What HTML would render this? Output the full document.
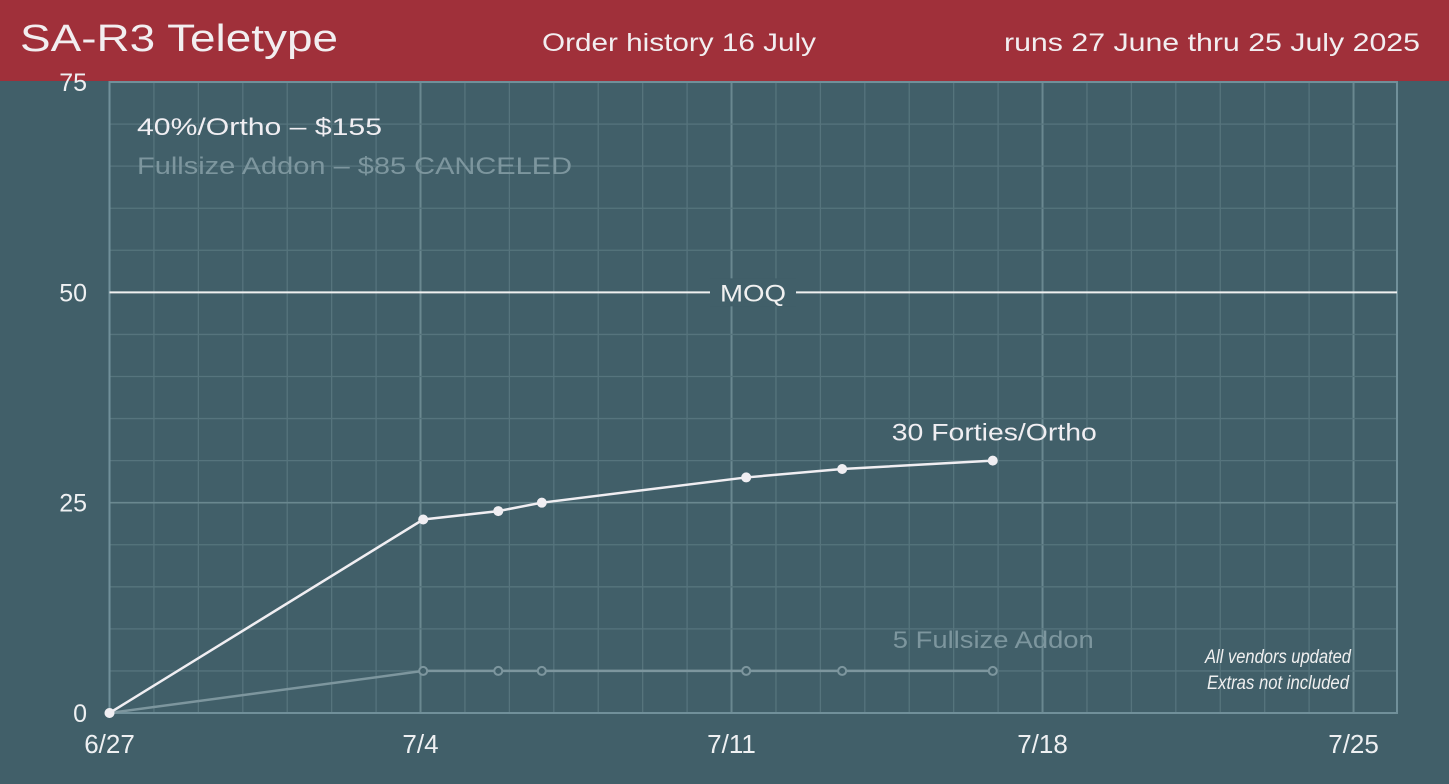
<!DOCTYPE html>
<html><head><meta charset="utf-8"><style>
body{margin:0;background:#415f69;width:1449px;height:779px;overflow:hidden;font-family:"Liberation Sans",sans-serif}
</style></head><body>
<svg width="1449" height="779" id="c" xmlns="http://www.w3.org/2000/svg">
<rect width="1449" height="779" fill="#415f69"/>
<g id="grid"></g>
<rect x="0" y="0" width="1449" height="81" fill="#a0303a"/>
<text x="20" y="51" font-size="38" fill="#f2eef0" textLength="318" lengthAdjust="spacingAndGlyphs">SA-R3 Teletype</text>
<text x="542" y="51" font-size="25" fill="#f2eef0" textLength="274" lengthAdjust="spacingAndGlyphs">Order history 16 July</text>
<text x="1004" y="51" font-size="25" fill="#f2eef0" textLength="416" lengthAdjust="spacingAndGlyphs">runs 27 June thru 25 July 2025</text>
<text x="137" y="135" font-size="24" fill="#f0eef2" textLength="245" lengthAdjust="spacingAndGlyphs">40%/Ortho – $155</text>
<text x="137" y="174" font-size="24" fill="#7d969e" textLength="435" lengthAdjust="spacingAndGlyphs">Fullsize Addon – $85 CANCELED</text>
<g id="axes"></g>
<g id="marks"></g>
<text x="1205" y="663" font-size="19" font-style="italic" fill="#f0f0f0" textLength="146" lengthAdjust="spacingAndGlyphs">All vendors updated</text>
<text x="1207" y="689" font-size="19" font-style="italic" fill="#f0f0f0" textLength="142" lengthAdjust="spacingAndGlyphs">Extras not included</text>
</svg>
<script>
const dayOffsets=[0,7.06,8.75,9.73,14.33,16.49,19.88];
const orthoValues=[0,23,24,25,28,29,30];
const addonValues=[0,5,5,5,5,5,5];
const xTickLabels=["6/27","7/4","7/11","7/18","7/25"];
const yTickValues=[0,25,50,75];
const moqValue=50;
const X0=109.5,DAY=44.43,Y0=713,UNIT=8.413,XMAX=1397;
const xs=d=>X0+d*DAY, ys=v=>Y0-v*UNIT;
const NS="http://www.w3.org/2000/svg";
function mk(p,t,a){const e=document.createElementNS(NS,t);for(const k in a)e.setAttribute(k,a[k]);p.appendChild(e);return e;}
const g=document.getElementById('grid'),ax=document.getElementById('axes'),m=document.getElementById('marks');
for(let d=0;xs(d)<XMAX-2;d++){
 const l=mk(g,'line',{x1:xs(d),x2:xs(d),y1:ys(75),y2:Y0,stroke:d%7===0?'#6a8890':'#56747d','stroke-width':d%7===0?2:1.3});
 
 
}
for(let v=0;v<=75;v+=5){
 const l=mk(g,'line',{x1:X0,x2:XMAX,y1:ys(v),y2:ys(v),stroke:v%25===0?'#6a8890':'#56747d','stroke-width':v%25===0?1.6:1.3});
 
 
}
const fr=mk(g,'rect',{x:X0,y:ys(75),width:XMAX-X0,height:Y0-ys(75),fill:'none',stroke:'#71909a','stroke-width':2});


yTickValues.forEach(v=>{
 const t=mk(ax,'text',{x:87,y:ys(v)+9,'font-size':25,fill:'#eef0f2','text-anchor':'end'});t.textContent=v;
 
 
});
xTickLabels.forEach((s,i)=>{
 const t=mk(ax,'text',{x:xs(i*7),y:753,'font-size':26,fill:'#eef0f2','text-anchor':'middle'});t.textContent=s;
 
 
});
const ml=mk(m,'line',{x1:X0,x2:XMAX,y1:ys(moqValue),y2:ys(moqValue),stroke:'#f0f0f0','stroke-width':2});


const mb=mk(m,'rect',{x:710,y:ys(moqValue)-14,width:86,height:28,fill:'#415f69'});


const mt=mk(m,'text',{x:720,y:ys(moqValue)+9,'font-size':24,fill:'#f0f0f0',textLength:66,lengthAdjust:'spacingAndGlyphs'});mt.textContent='MOQ';


function series(vals,color,filled,name){
 const pl=mk(m,'polyline',{points:vals.map((v,i)=>xs(dayOffsets[i])+','+ys(v)).join(' '),fill:'none',stroke:color,'stroke-width':2.5});
 
 
 vals.forEach((v,i)=>{
  const c=mk(m,'circle',{cx:xs(dayOffsets[i]),cy:ys(v),r:filled?4.5:4,fill:filled?color:'#415f69',stroke:color,'stroke-width':filled?1:2});
  
  
 });
}
series(addonValues,'#7d969e',false,'addon');
series(orthoValues,'#f0eef2',true,'ortho');
const lo=mk(m,'text',{x:xs(dayOffsets[6])-101,y:ys(orthoValues[6])-20,'font-size':24,fill:'#f0eef2',textLength:205,lengthAdjust:'spacingAndGlyphs'});
lo.textContent=orthoValues[6]+' Forties/Ortho';


const la=mk(m,'text',{x:xs(dayOffsets[6])-100,y:ys(addonValues[6])-23,'font-size':24,fill:'#7d969e',textLength:201,lengthAdjust:'spacingAndGlyphs'});
la.textContent=addonValues[6]+' Fullsize Addon';


</script>
</body></html>
